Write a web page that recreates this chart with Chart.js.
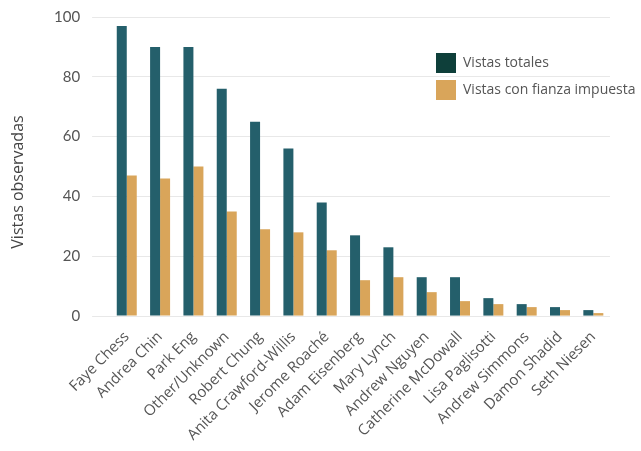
<!DOCTYPE html>
<html>
<head>
<meta charset="utf-8">
<script src="https://cdn.jsdelivr.net/npm/chart.js@4"></script>
<style>
  html, body { margin: 0; padding: 0; background: #fff; }
  #wrap { width: 641px; height: 451px; }
</style>
</head>
<body>
<div id="wrap"><canvas id="chartofViews"></canvas></div>
<script>
// data
const names = ["Faye Chess", "Andrea Chin", "Park Eng", "Other/Unknown", "Robert Chung",
    "Anita Crawford-Willis", "Jerome Roaché", "Adam Eisenberg", "Mary Lynch", "Andrew Nguyen",
    "Catherine McDowall", "Lisa Paglisotti", "Andrew Simmons", "Damon Shadid", "Seth Niesen"];
const totalViews = [97, 90, 90, 76, 65, 56, 38, 27, 23, 13, 13, 6, 4, 3, 2];
const bailViews = [47, 46, 50, 35, 29, 28, 22, 12, 13, 8, 5, 4, 3, 2, 1];
const yTicks = [0, 20, 40, 60, 80, 100];

const seriesLabels = ["Vistas totales", "Vistas con fianza impuesta"];
const legendColors = ["#0e3f3a", "#d9a55a"];
const yTitle = 'Vistas observadas';

// legend inside the plot (upper right) and the y title, which sits a bit low in the original
const extraText = {
    id: 'extraText',
    afterDraw(chart) {
        const ctx = chart.ctx;
        const x = 436, y = 53;
        ctx.save();
        ctx.font = '14px "Open Sans"';
        ctx.textBaseline = 'middle';
        seriesLabels.forEach((lab, i) => {
            ctx.fillStyle = legendColors[i];
            ctx.fillRect(x, y + i * 27, 20, 20);
            ctx.fillStyle = '#555';
            ctx.fillText(lab, x + 27, y + i * 27 + 10);
        });

        ctx.translate(18, 182);
        ctx.rotate(-Math.PI / 2);
        ctx.textAlign = 'center';
        ctx.font = '16px "Open Sans"';
        ctx.fillStyle = '#444';
        ctx.fillText(yTitle, 0, 0);
        ctx.restore();
    }
};

const viewsInfo = {
    labels: names,
    datasets: [{
        label: seriesLabels[0],
        data: totalViews,
        backgroundColor: '#245f6b',
        barPercentage: 1,
        categoryPercentage: 0.6
    }, {
        label: seriesLabels[1],
        data: bailViews,
        backgroundColor: '#d9a55a',
        barPercentage: 1,
        categoryPercentage: 0.6
    }]
};

const config = {
    type: 'bar',
    data: viewsInfo,
    options: {
        responsive: false,
        animation: false,
        layout: { padding: { left: 42, right: 31, top: 0, bottom: 3 } },
        plugins: {
            legend: { display: false },
            tooltip: { enabled: false }
        },
        scales: {
            x: {
                grid: { display: false },
                border: { display: false },
                ticks: {
                    autoSkip: false,
                    minRotation: 45,
                    maxRotation: 45,
                    color: '#555',
                    font: { family: 'Open Sans', size: 15 },
                    padding: 4
                }
            },
            y: {
                min: 0,
                max: 100,
                afterBuildTicks(axis) {
                    axis.ticks = yTicks.map(v => ({ value: v }));
                },
                // keep the top of the plot close to the canvas edge
                afterFit(axis) {
                    axis.paddingTop = 17;
                },
                grid: { color: '#e8e8e8', lineWidth: 1, tickLength: 18 },
                border: { display: false },
                ticks: {
                    color: '#555',
                    font: { family: 'Lato', size: 15 },
                    padding: 12
                }
            }
        }
    },
    plugins: [extraText]
};

const canvas = document.getElementById('chartofViews');
canvas.width = 641;
canvas.height = 451;
const chart = new Chart(canvas.getContext('2d'), config);
console.log("chartofviews", chart.chartArea);
</script>
</body>
</html>
